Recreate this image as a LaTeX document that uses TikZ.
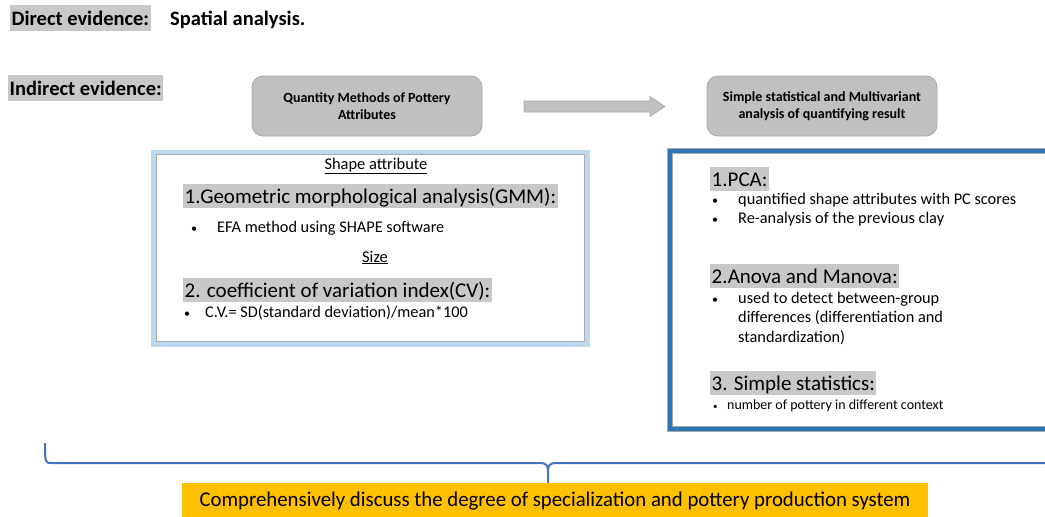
\documentclass[tikz,border=0pt]{standalone}
\usepackage{fontspec}
\setmainfont{Carlito}
\definecolor{hlgray}{RGB}{200,200,200}
\definecolor{boxgray}{RGB}{192,192,192}
\definecolor{boxedge}{RGB}{168,168,168}
\definecolor{paleblue}{RGB}{189,215,238}
\definecolor{frameblue}{RGB}{46,117,182}
\definecolor{braceblue}{RGB}{68,114,196}
\definecolor{amber}{RGB}{255,192,0}
\begin{document}
\begin{tikzpicture}[x=1pt,y=-1pt,
  label/.style={anchor=base west, inner sep=0pt, text=black},
  hl/.style={anchor=base west, fill=hlgray, inner xsep=1.5pt, inner ysep=0pt},
  bighl/.style={hl, font=\fontsize{21}{24}\selectfont, text height=19pt, text depth=5pt},
  toplbl/.style={hl, font=\bfseries\fontsize{20.5}{24}\selectfont, text height=20pt, text depth=6pt},
  stepbox/.style={fill=boxgray, draw=boxedge, line width=0.8pt, rounded corners=11pt,
    minimum width=230pt, minimum height=60pt, align=center,
    font=\bfseries\fontsize{14}{17}\selectfont},
  body/.style={label, font=\fontsize{16.3}{19.5}\selectfont},
  dot/.style={label, font=\fontsize{12}{14}\selectfont},
]
\useasboundingbox (0,0) rectangle (1045,517);
\clip (0,0) rectangle (1045,517);

% headings at the top left
\node[toplbl] (direct) at (10,25) {Direct evidence:\hspace{2pt}};
\node[label, font=\bfseries\fontsize{20.5}{24}\selectfont] (spatial) at (170,25) {Spatial analysis.};
\node[toplbl] (indirect) at (8,95) {Indirect evidence:};

% the two method boxes and the block arrow between them
\node[stepbox] (quant) at (367,106) {Quantity Methods of Pottery\\Attributes};
\node[stepbox] (stat) at (822,106) {Simple statistical and Multivariant\\analysis of quantifying result};
\coordinate (flowtail) at (524,106.5);
\coordinate (flowtip) at (665,106.5);
\filldraw[fill=boxgray, draw=boxedge, line width=0.6pt]
  (flowtail) ++(0,-5.5) -- ++(126,0) -- ++(0,-4.5) -- (flowtip)
  -- ++(-15,10) -- ++(0,-4.5) -- ++(-126,0) -- cycle;

% left frame: shape and size attributes
\draw[paleblue, line width=5pt] (153.5,152) rectangle (587.5,344.5);
\draw[boxedge, line width=0.7pt] (156.3,154.8) rectangle (584.7,341.7);
\node[label, font=\fontsize{16.4}{19}\selectfont, anchor=base] (shape) at (376,169) {\underline{Shape attribute}};
\node[bighl] (gmm) at (183,203) {1.Geometric morphological analysis(GMM):};
\node[dot] (b1) at (191,232) {•};
\node[body] (efa) at (217,232) {EFA method using SHAPE software};
\node[label, font=\fontsize{16.4}{19}\selectfont, anchor=base] (size) at (375,262) {\underline{Size}};
\node[bighl] (cv) at (183,297) {2. coefficient of variation index(CV):};
\node[dot] (b2) at (184,317) {•};
\node[body] (cvf) at (205,317) {C.V.= SD(standard deviation)/mean*100};

% right frame: statistics
\draw[boxedge, line width=5.5pt] (670,151) rectangle (1070,429);
\draw[frameblue, line width=3.8pt] (670,151) rectangle (1070,429);
\node[bighl] (pca) at (710,186) {1.PCA:};
\node[dot] (b3) at (712,204) {•};
\node[body] (pc1) at (738,204) {quantified shape attributes with PC scores};
\node[dot] (b4) at (712,223) {•};
\node[body] (pc2) at (738,223) {Re-analysis of the previous clay};
\node[bighl] (anova) at (710,283) {2.Anova and Manova:};
\node[dot] (b5) at (712,303) {•};
\node[body] (an1) at (738,303) {used to detect between-group};
\node[body] (an2) at (738,322.5) {differences (differentiation and};
\node[body] (an3) at (738,342) {standardization)};
\node[bighl] (simple) at (710,390) {3. Simple statistics:};
\node[label, font=\fontsize{9}{11}\selectfont] (b6) at (713,409) {•};
\node[label, font=\fontsize{14}{16}\selectfont] (cnt) at (727,409) {number of pottery in different context};

% conclusion and the bracket that gathers everything into it
\node[fill=amber, minimum width=746pt, minimum height=36pt, inner sep=0pt,
  font=\fontsize{21}{24}\selectfont] (goal) at (555,501)
  {\scalebox{0.99}[1]{Comprehensively discuss the degree of specialization and pottery production system}};
\coordinate (bl) at (45,443);
\coordinate (br) at (1060,463);
\draw[braceblue, line width=2pt]
  (bl) .. controls (45,463) and (45,463) .. (52,463) -- (540,463)
  .. controls (546,463) and (548,465) .. (548,472) -- (goal.north -| 548,0);
\draw[braceblue, line width=2pt]
  (br) -- (556,463) .. controls (550,463) and (548,465) .. (548,472);
\end{tikzpicture}
\end{document}
